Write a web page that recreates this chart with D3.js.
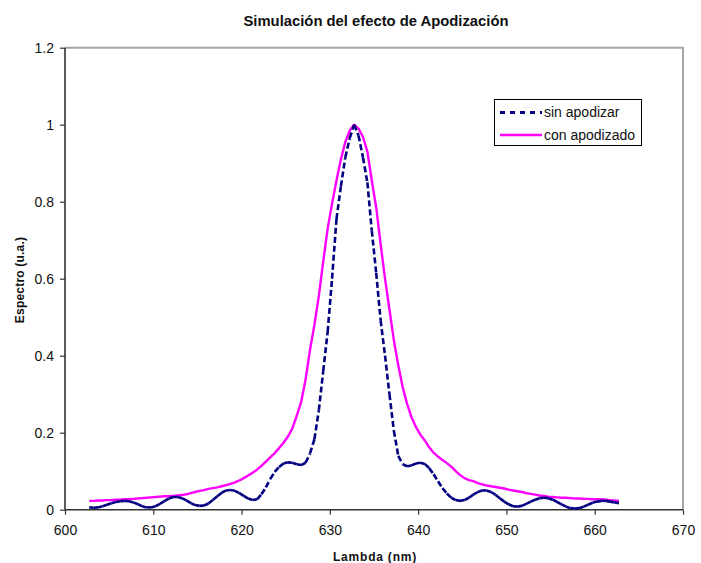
<!DOCTYPE html>
<html>
<head>
<meta charset="utf-8">
<script src="https://cdn.jsdelivr.net/npm/d3@7"></script>
<style>
  html, body { margin: 0; padding: 0; background: #fff; }
  svg { display: block; font-family: "Liberation Sans", Arial, sans-serif; }
</style>
</head>
<body>
<svg id="chart" width="701" height="563"></svg>
<script>
// Wavelength samples (nm)
const lambda = [
  602.75, 603.25, 603.75, 604.25, 604.75, 605.25, 605.75, 606.25, 606.75, 607.25,
  607.75, 608.25, 608.75, 609.25, 609.75, 610.25, 610.75, 611.25, 611.75, 612.25,
  612.75, 613.25, 613.75, 614.25, 614.75, 615.25, 615.75, 616.25, 616.75, 617.25,
  617.75, 618.25, 618.75, 619.25, 619.75, 620.25, 620.75, 621.25, 621.75, 622.25,
  622.75, 623.25, 623.75, 624.25, 624.75, 625.25, 625.75, 626.25, 626.75, 627.25,
  627.75, 628.25, 628.75, 629.25, 629.75, 630.25, 630.75, 631.25, 631.75, 632.25,
  632.75, 633.25, 633.75, 634.25, 634.75, 635.25, 635.75, 636.25, 636.75, 637.25,
  637.75, 638.25, 638.75, 639.25, 639.75, 640.25, 640.75, 641.25, 641.75, 642.25,
  642.75, 643.25, 643.75, 644.25, 644.75, 645.25, 645.75, 646.25, 646.75, 647.25,
  647.75, 648.25, 648.75, 649.25, 649.75, 650.25, 650.75, 651.25, 651.75, 652.25,
  652.75, 653.25, 653.75, 654.25, 654.75, 655.25, 655.75, 656.25, 656.75, 657.25,
  657.75, 658.25, 658.75, 659.25, 659.75, 660.25, 660.75, 661.25, 661.75, 662.25,
  662.75
];

// Spectrum without apodization (u.a.)
const sinApodizar = [
  0.006, 0.005, 0.006, 0.009, 0.013, 0.017, 0.020, 0.022, 0.023, 0.022,
  0.019, 0.014, 0.009, 0.006, 0.006, 0.009, 0.015, 0.022, 0.029, 0.033,
  0.033, 0.030, 0.024, 0.017, 0.012, 0.010, 0.011, 0.016, 0.025, 0.035,
  0.044, 0.050, 0.051, 0.049, 0.043, 0.036, 0.029, 0.025, 0.027, 0.040,
  0.058, 0.080, 0.098, 0.111, 0.120, 0.123, 0.122, 0.118, 0.116, 0.122,
  0.146, 0.183, 0.258, 0.360, 0.462, 0.600, 0.755, 0.840, 0.915, 0.965,
  1.000, 0.972, 0.915, 0.850, 0.725, 0.615, 0.492, 0.400, 0.300, 0.205,
  0.140, 0.118, 0.113, 0.115, 0.120, 0.122, 0.119, 0.108, 0.092, 0.074,
  0.056, 0.042, 0.031, 0.025, 0.023, 0.025, 0.031, 0.039, 0.046, 0.050,
  0.050, 0.046, 0.039, 0.030, 0.021, 0.014, 0.009, 0.008, 0.010, 0.015,
  0.021, 0.026, 0.030, 0.031, 0.030, 0.026, 0.020, 0.014, 0.008, 0.004,
  0.003, 0.004, 0.008, 0.013, 0.018, 0.021, 0.023, 0.023, 0.021, 0.019,
  0.017
];

// Spectrum with apodization (u.a.)
const conApodizado = [
  0.023, 0.023, 0.024, 0.024, 0.025, 0.025, 0.026, 0.026, 0.027, 0.027,
  0.028, 0.029, 0.030, 0.031, 0.032, 0.033, 0.034, 0.035, 0.035, 0.036,
  0.037, 0.038, 0.040, 0.043, 0.046, 0.049, 0.051, 0.054, 0.056, 0.058,
  0.061, 0.064, 0.067, 0.071, 0.076, 0.082, 0.089, 0.096, 0.104, 0.114,
  0.125, 0.136, 0.147, 0.160, 0.174, 0.190, 0.211, 0.244, 0.280, 0.338,
  0.415, 0.480, 0.555, 0.645, 0.730, 0.795, 0.855, 0.910, 0.955, 0.985,
  1.000, 0.990, 0.968, 0.930, 0.855, 0.785, 0.690, 0.600, 0.520, 0.440,
  0.375, 0.318, 0.275, 0.240, 0.215, 0.195, 0.180, 0.162, 0.148, 0.138,
  0.129, 0.121, 0.112, 0.100, 0.090, 0.082, 0.077, 0.074, 0.069, 0.066,
  0.063, 0.061, 0.059, 0.057, 0.055, 0.052, 0.050, 0.048, 0.046, 0.043,
  0.041, 0.039, 0.037, 0.036, 0.034, 0.033, 0.032, 0.031, 0.031, 0.030,
  0.029, 0.029, 0.028, 0.028, 0.027, 0.027, 0.027, 0.026, 0.025, 0.024,
  0.023
];

const xTicks = [600, 610, 620, 630, 640, 650, 660, 670];
const yTicks = [0, 0.2, 0.4, 0.6, 0.8, 1, 1.2];
const seriesNames = ["sin apodizar", "con apodizado"];

const titleText = "Simulación del efecto de Apodización";
const xLabel = "Lambda (nm)";
const yLabel = "Espectro (u.a.)";

const colorSin = "#000080";
const colorCon = "#ff00ff";

const svg = d3.select("#chart");
const plot = { left: 65, right: 683, top: 47.7, bottom: 509.7 };

const x = d3.scaleLinear().domain([600, 670]).range([plot.left, plot.right]);
const y = d3.scaleLinear().domain([0, 1.2]).range([plot.bottom, plot.top]);

// Plot-area frame (top and right edges)
svg.append("path")
  .attr("d", `M${plot.left},${plot.top}H${plot.right}V${plot.bottom}`)
  .attr("fill", "none")
  .attr("stroke", "#a6a6a6")
  .attr("stroke-width", 2);

// Title
svg.append("text")
  .attr("x", 376).attr("y", 25.5)
  .attr("text-anchor", "middle")
  .attr("font-size", "14.8px")
  .attr("font-weight", "bold")
  .attr("fill", "#111")
  .text(titleText);

// Axes
const xAxis = d3.axisBottom(x).tickValues(xTicks).tickSize(5).tickFormat(d3.format("d"));
const yAxis = d3.axisLeft(y).tickValues(yTicks).tickSize(5).tickFormat(d => String(d));

const gx = svg.append("g").attr("transform", `translate(0,${plot.bottom})`).call(xAxis);
const gy = svg.append("g").attr("transform", `translate(${plot.left},0)`).call(yAxis);

[gx, gy].forEach(g => {
  g.select(".domain").attr("stroke", "#333").attr("stroke-width", 1.6);
  g.selectAll(".tick line").attr("stroke", "#333").attr("stroke-width", 1.2);
  g.selectAll(".tick text")
    .attr("font-family", "'Liberation Sans', Arial, sans-serif")
    .attr("font-size", "14px")
    .attr("fill", "#111");
});
gx.selectAll(".tick text").attr("dy", null).attr("y", 25.5);
gy.selectAll(".tick text").attr("x", -11).attr("dy", "0.36em");
// Axis domains without the end caps
gx.select(".domain").attr("d", `M${plot.left},0H${plot.right}`);
gy.select(".domain").attr("d", `M0,${plot.top}V${plot.bottom}`);

// Axis titles
svg.append("text")
  .attr("x", 375).attr("y", 560.5)
  .attr("text-anchor", "middle")
  .attr("font-size", "12px")
  .attr("font-weight", "bold")
  .attr("letter-spacing", "0.8px")
  .attr("fill", "#111")
  .text(xLabel);

svg.append("text")
  .attr("transform", "translate(23.5,280) rotate(-90)")
  .attr("text-anchor", "middle")
  .attr("font-size", "12px")
  .attr("font-weight", "bold")
  .attr("letter-spacing", "0.2px")
  .attr("fill", "#111")
  .text(yLabel);

// Series
const ptsSin = lambda.map((l, i) => [x(l), y(sinApodizar[i])]);
const ptsCon = lambda.map((l, i) => [x(l), y(conApodizado[i])]);

svg.append("path")
  .attr("d", d3.line()(ptsCon))
  .attr("fill", "none")
  .attr("stroke", colorCon)
  .attr("stroke-width", 2.4)
  .attr("stroke-linejoin", "round");

// Dashed series: each segment restarts the dash pattern, so short
// segments render solid while long steep ones show the dashes.
svg.append("g")
  .selectAll("line")
  .data(d3.pairs(ptsSin))
  .join("line")
  .attr("x1", d => d[0][0]).attr("y1", d => d[0][1])
  .attr("x2", d => d[1][0]).attr("y2", d => d[1][1])
  .attr("stroke", colorSin)
  .attr("stroke-width", 2.6)
  .attr("stroke-dasharray", "6,3");

// Legend
const legend = svg.append("g");
legend.append("rect")
  .attr("x", 494.5).attr("y", 99.5)
  .attr("width", 147).attr("height", 46)
  .attr("fill", "#fff")
  .attr("stroke", "#000")
  .attr("stroke-width", 1);

const legendRows = [
  { name: seriesNames[0], color: colorSin, dash: "5,5", y: 112.5 },
  { name: seriesNames[1], color: colorCon, dash: null, y: 135 }
];
legendRows.forEach(r => {
  legend.append("line")
    .attr("x1", 500).attr("x2", 542)
    .attr("y1", r.y).attr("y2", r.y)
    .attr("stroke", r.color)
    .attr("stroke-width", r.dash ? 3 : 2.4)
    .attr("stroke-dasharray", r.dash);
  legend.append("text")
    .attr("x", 544).attr("y", r.y)
    .attr("dy", "0.35em")
    .attr("font-size", "14px")
    .attr("fill", "#111")
    .text(r.name);
});
</script>
</body>
</html>
